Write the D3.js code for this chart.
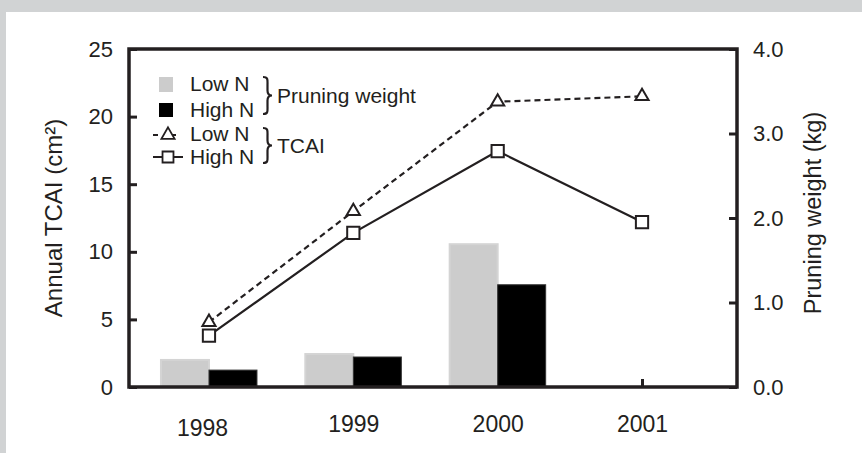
<!DOCTYPE html>
<html><head><meta charset="utf-8">
<script src="https://cdn.jsdelivr.net/npm/d3@7/dist/d3.min.js"></script>
<style>
html,body{margin:0;padding:0;background:#fff;}
svg{display:block;font-family:"Liberation Sans",Arial,Helvetica,sans-serif;}
</style></head>
<body>
<svg id="chart" width="862" height="453"></svg>
<script>
// ---- data ----
const years = [1998, 1999, 2000, 2001];
const pruningLowN  = [0.32, 0.39, 1.69, null];   // kg (right axis)
const pruningHighN = [0.20, 0.355, 1.21, null];  // kg (right axis)
const tcaiLowN  = [4.8, 13.0, 21.1, 21.5];       // cm² (left axis)
const tcaiHighN = [3.8, 11.4, 17.45, 12.2];      // cm² (left axis)
const leftTicks  = [0, 5, 10, 15, 20, 25];
const rightTicks = [0, 1, 2, 3, 4];
const legendBarLabels  = ["Low N", "High N"];
const legendLineLabels = ["Low N", "High N"];

// ---- layout ----
const W = 862, H = 453;
const L = 129, R = 737, T = 49, B = 387;
const ink = "#231f20";
const grayFill = "#cccccc";

const svg = d3.select("#chart");
svg.append("rect").attr("width", W).attr("height", H).attr("fill", "#d1d3d4");
svg.append("rect").attr("x", 6).attr("y", 12).attr("width", W - 6).attr("height", H - 12).attr("fill", "#fff");

const x = d3.scaleLinear().domain([1997.446, 2001.658]).range([L, R]);
const yL = d3.scaleLinear().domain([0, 25]).range([B, T]);
const yR = d3.scaleLinear().domain([0, 4]).range([B, T]);
const barW = 48;

// axes (ticks inside)
const axL = svg.append("g").attr("transform", `translate(${L},0)`)
  .call(d3.axisLeft(yL).tickValues(leftTicks).tickSizeInner(-8).tickSizeOuter(0).tickPadding(16));
const axR = svg.append("g").attr("transform", `translate(${R},0)`)
  .call(d3.axisRight(yR).tickValues(rightTicks).tickSizeInner(-8).tickSizeOuter(0).tickPadding(16).tickFormat(d3.format(".1f")));
const axB = svg.append("g").attr("transform", `translate(0,${B})`)
  .call(d3.axisBottom(x).tickValues(years).tickSizeInner(-8).tickSizeOuter(0).tickFormat(d3.format("d")));

[axL, axR, axB].forEach(a => {
  a.select(".domain").remove();
  a.selectAll(".tick line").attr("stroke", ink).attr("stroke-width", 3);
  a.selectAll(".tick text").attr("fill", ink).attr("font-family", "Liberation Sans, Arial, sans-serif");
});
axL.selectAll(".tick text").attr("font-size", 22);
axR.selectAll(".tick text").attr("font-size", 22);
axB.selectAll(".tick text").attr("font-size", 23).attr("y", 45).attr("dy", 0)
  .attr("transform", (d, i) => i === 0 ? "translate(-7,4)" : null);

// bars
const barData = years.map((yr, i) => ({yr, low: pruningLowN[i], high: pruningHighN[i]}));
const bars = svg.append("g");
bars.selectAll("rect.low").data(barData.filter(d => d.low != null)).join("rect")
  .attr("class", "low")
  .attr("x", d => x(d.yr) - barW).attr("width", barW)
  .attr("y", d => yR(d.low)).attr("height", d => yR(0) - yR(d.low))
  .attr("fill", grayFill).attr("stroke", "#d4d4d4").attr("stroke-width", 2);
bars.selectAll("rect.high").data(barData.filter(d => d.high != null)).join("rect")
  .attr("class", "high")
  .attr("x", d => x(d.yr)).attr("width", barW)
  .attr("y", d => yR(d.high)).attr("height", d => yR(0) - yR(d.high))
  .attr("fill", "#000").attr("stroke", "#333").attr("stroke-width", 1);

// lines
const line = d3.line().x(d => x(d[0])).y(d => yL(d[1]));
const lowPts = years.map((yr, i) => [yr, tcaiLowN[i]]);
const highPts = years.map((yr, i) => [yr, tcaiHighN[i]]);
svg.append("path").attr("d", line(lowPts)).attr("fill", "none").attr("stroke", ink)
  .attr("stroke-width", 2.2).attr("stroke-dasharray", "6,4");
svg.append("path").attr("d", line(highPts)).attr("fill", "none").attr("stroke", ink)
  .attr("stroke-width", 2.2);

const tri = d3.symbol().type(d3.symbolTriangle).size(75);
const sq = d3.symbol().type(d3.symbolSquare).size(150);
svg.append("g").selectAll("path").data(highPts).join("path")
  .attr("transform", d => `translate(${x(d[0])},${yL(d[1])})`)
  .attr("d", sq).attr("fill", "#fff").attr("stroke", ink).attr("stroke-width", 2);
svg.append("g").selectAll("path").data(lowPts).join("path")
  .attr("transform", d => `translate(${x(d[0])},${yL(d[1])})`)
  .attr("d", tri).attr("fill", "#fff").attr("stroke", ink).attr("stroke-width", 2);

// frame
svg.append("rect").attr("x", L).attr("y", T).attr("width", R - L).attr("height", B - T)
  .attr("fill", "none").attr("stroke", ink).attr("stroke-width", 3.5);

// axis titles
svg.append("text").attr("transform", `translate(62,218) rotate(-90)`)
  .attr("text-anchor", "middle").attr("font-size", 24).attr("fill", ink)
  .text("Annual TCAI (cm²)");
svg.append("text").attr("transform", `translate(821,213) rotate(-90)`)
  .attr("text-anchor", "middle").attr("font-size", 23.5).attr("fill", ink)
  .text("Pruning weight (kg)");

// legend
const lg = svg.append("g");
const legFs = 21;
lg.append("rect").attr("x", 159).attr("y", 77).attr("width", 14).attr("height", 15).attr("fill", grayFill);
lg.append("rect").attr("x", 159).attr("y", 103).attr("width", 14).attr("height", 14).attr("fill", "#000");
lg.append("text").attr("x", 190).attr("y", 91).attr("font-size", legFs).attr("fill", ink).text(legendBarLabels[0]);
lg.append("text").attr("x", 190).attr("y", 117).attr("font-size", legFs).attr("fill", ink).text(legendBarLabels[1]);

// line legend entries
lg.append("line").attr("x1", 153).attr("x2", 183).attr("y1", 135).attr("y2", 135)
  .attr("stroke", ink).attr("stroke-width", 2).attr("stroke-dasharray", "5,13");
lg.append("path").attr("transform", "translate(168,135)").attr("d", tri).attr("fill", "#fff").attr("stroke", ink).attr("stroke-width", 1.8);
lg.append("line").attr("x1", 153).attr("x2", 183).attr("y1", 157).attr("y2", 157)
  .attr("stroke", ink).attr("stroke-width", 2);
lg.append("path").attr("transform", "translate(168,157)").attr("d", d3.symbol().type(d3.symbolSquare).size(120)).attr("fill", "#fff").attr("stroke", ink).attr("stroke-width", 1.8);
lg.append("text").attr("x", 190).attr("y", 141).attr("font-size", legFs).attr("fill", ink).text(legendLineLabels[0]);
lg.append("text").attr("x", 190).attr("y", 164).attr("font-size", legFs).attr("fill", ink).text(legendLineLabels[1]);

// braces
function brace(x0, y0, y1) {
  const m = (y0 + y1) / 2, w = 9;
  return `M${x0},${y0} C${x0 + w * 0.6},${y0} ${x0 + w * 0.5},${y0 + 3} ${x0 + w * 0.5},${y0 + 8}
          L${x0 + w * 0.5},${m - 5} C${x0 + w * 0.5},${m - 1} ${x0 + w * 0.7},${m} ${x0 + w},${m}
          C${x0 + w * 0.7},${m} ${x0 + w * 0.5},${m + 1} ${x0 + w * 0.5},${m + 5}
          L${x0 + w * 0.5},${y1 - 8} C${x0 + w * 0.5},${y1 - 3} ${x0 + w * 0.6},${y1} ${x0},${y1}`;
}
lg.append("path").attr("d", brace(263, 77, 114)).attr("fill", "none").attr("stroke", ink).attr("stroke-width", 2.2);
lg.append("path").attr("d", brace(263, 128, 163)).attr("fill", "none").attr("stroke", ink).attr("stroke-width", 2.2);
lg.append("text").attr("x", 277).attr("y", 103).attr("font-size", legFs).attr("fill", ink).text("Pruning weight");
lg.append("text").attr("x", 277).attr("y", 153).attr("font-size", legFs).attr("fill", ink).text("TCAI");
</script>
</body></html>
